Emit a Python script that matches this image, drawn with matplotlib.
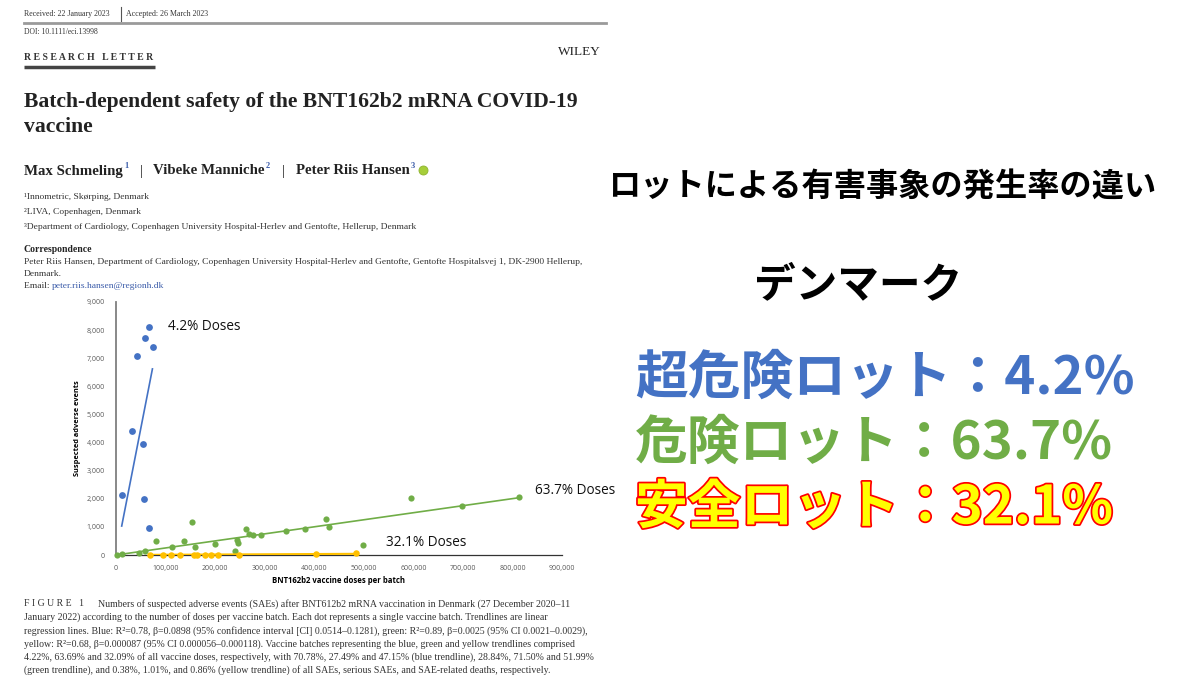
import matplotlib
matplotlib.use("Agg")
import matplotlib.pyplot as plt
import matplotlib.patheffects as pe
from matplotlib.ticker import FuncFormatter

# batches: doses per batch vs suspected adverse events
blue_x = [11500, 31600, 43000, 53800, 56500, 57800, 65900, 67200, 73900]
blue_y = [2150, 4400, 7090, 3960, 1975, 7710, 960, 8100, 7410]

green_x = [2700, 12000, 47000, 57800, 81000, 114000, 137000, 153000, 159000,
           200000, 240000, 245000, 246000, 262000, 268000, 276000, 292000,
           344000, 382000, 423000, 429000, 499000, 595000, 698000, 814000]
green_y = [0, 35, 60, 140, 490, 300, 490, 1180, 270, 400, 150, 535, 440, 925,
           750, 725, 710, 870, 915, 1265, 990, 357, 2035, 1760, 2060]

yellow_x = [69000, 95000, 111000, 130000, 157000, 164000, 180000, 192000,
            206000, 248000, 403000, 485000]
yellow_y = [0, 0, 0, 0, 0, 0, 0, 0, 0, 0, 40, 60]

# trendline end points
blue_trend_x = [11500, 73500]
blue_trend_y = [1030, 6620]
green_trend_x = [0, 814000]
green_trend_y = [0, 2040]
yellow_trend_x = [69000, 485000]
yellow_trend_y = [6, 42]

x_ticks = [0, 100000, 200000, 300000, 400000, 500000, 600000, 700000, 800000, 900000]
y_ticks = [0, 1000, 2000, 3000, 4000, 5000, 6000, 7000, 8000, 9000]

share_labels = ["4.2% Doses", "63.7% Doses", "32.1% Doses"]
jp_title = "ロットによる有害事象の発生率の違い"
jp_country = "デンマーク"
jp_rows = ["超危険ロット：4.2%", "危険ロット：63.7%", "安全ロット：32.1%"]

caption = [
    "Numbers of suspected adverse events (SAEs) after BNT612b2 mRNA vaccination in Denmark (27 December 2020–11",
    "January 2022) according to the number of doses per vaccine batch. Each dot represents a single vaccine batch. Trendlines are linear",
    "regression lines. Blue: R²=0.78, β=0.0898 (95% confidence interval [CI] 0.0514–0.1281), green: R²=0.89, β=0.0025 (95% CI 0.0021–0.0029),",
    "yellow: R²=0.68, β=0.000087 (95% CI 0.000056–0.000118). Vaccine batches representing the blue, green and yellow trendlines comprised",
    "4.22%, 63.69% and 32.09% of all vaccine doses, respectively, with 70.78%, 27.49% and 47.15% (blue trendline), 28.84%, 71.50% and 51.99%",
    "(green trendline), and 0.38%, 1.01%, and 0.86% (yellow trendline) of all SAEs, serious SAEs, and SAE-related deaths, respectively.",
]
affiliations = [
    "¹Innometric, Skørping, Denmark",
    "²LIVA, Copenhagen, Denmark",
    "³Department of Cardiology, Copenhagen University Hospital-Herlev and Gentofte, Hellerup, Denmark",
]

BLUE = "#4472C4"
GREEN = "#70AD47"
YELLOW = "#FFC000"
LINK = "#3A5BA9"

W, H = 1200, 675
fig = plt.figure(figsize=(12, 6.75), dpi=100)

# full-page axes in pixel units for the paper text
page = fig.add_axes([0, 0, 1, 1])
page.set_xlim(0, W)
page.set_ylim(H, 0)
page.axis("off")

serif = "Liberation Serif"
jp = ["Noto Sans CJK JP", "DejaVu Sans"]
txt = "#333333"

# header
page.text(24, 14, "Received: 22 January 2023", family=serif, fontsize=5.7, color=txt, va="center")
page.plot([121, 121], [7, 21], color="#555555", lw=0.8)
page.text(126, 14, "Accepted: 26 March 2023", family=serif, fontsize=5.7, color=txt, va="center")
page.plot([24, 606], [23, 23], color="#9a9a9a", lw=2)
page.text(24, 32, "DOI: 10.1111/eci.13998", family=serif, fontsize=5.5, color=txt, va="center")
page.text(24, 57, "R E S E A R C H   L E T T E R", family=serif, fontsize=7,
          weight="bold", color=txt, va="center")
page.plot([24, 155], [66.5, 66.5], color="#444444", lw=2.5, solid_capstyle="butt")
page.text(601, 52, "WILEY", family=serif, fontsize=9.5, color="#222222", va="center", ha="right")

# title
page.text(24, 102, "Batch-dependent safety of the BNT162b2 mRNA COVID-19", family=serif,
          fontsize=15.6, weight="bold", color="#222222", va="center")
page.text(24, 127, "vaccine", family=serif, fontsize=15.6, weight="bold", color="#222222", va="center")

# authors
names = [("Max Schmeling", "1", 24), ("Vibeke Manniche", "2", 153), ("Peter Riis Hansen", "3", 296)]
for name, sup, x0 in names:
    t = page.text(x0, 171, name, family=serif, fontsize=10.7, weight="bold", color="#222222", va="center")
    page.annotate(sup, xy=(1, 0.55), xycoords=t, xytext=(0.8, 0), textcoords="offset points",
                  family=serif, fontsize=6, weight="bold", color=LINK, va="bottom")
page.text(141, 171, "|", family=serif, fontsize=10, color="#222222", va="center", ha="center")
page.text(283, 171, "|", family=serif, fontsize=10, color="#222222", va="center", ha="center")
page.plot([423], [170], marker="o", ms=6.5, color="#A6CE39", mec="#8DB32E", mew=0.6)

for i, a in enumerate(affiliations):
    page.text(24, 197 + i * 15, a, family=serif, fontsize=6.8, color=txt, va="center")

page.text(24, 250, "Correspondence", family=serif, fontsize=7, weight="bold", color="#222222", va="center")
page.text(24, 262, "Peter Riis Hansen, Department of Cardiology, Copenhagen University Hospital-Herlev and "
          "Gentofte, Gentofte Hospitalsvej 1, DK-2900 Hellerup,", family=serif, fontsize=6.8, color=txt, va="center")
page.text(24, 274, "Denmark.", family=serif, fontsize=6.8, color=txt, va="center")
em = page.text(24, 286, "Email: ", family=serif, fontsize=6.8, color=txt, va="center")
page.annotate("peter.riis.hansen@regionh.dk", xy=(1, 0), xycoords=em, family=serif, fontsize=6.8,
              color=LINK, va="bottom")

# figure caption
page.text(24, 604, "F I G U R E   1", family=serif, fontsize=7, color=txt, va="center")
for i, line in enumerate(caption):
    page.text(98 if i == 0 else 24, 604 + i * 13.3, line, family=serif, fontsize=7.1, color=txt, va="center")

# scatter chart
ax = fig.add_axes([116 / W, 1 - 555 / H, (562 - 116) / W, (555 - 302) / H])
ax.patch.set_alpha(0)
ax.set_xlim(0, 900000)
ax.set_ylim(0, 9000)
ax.set_xticks(x_ticks)
ax.set_yticks(y_ticks)
fmt = FuncFormatter(lambda v, p: f"{int(v):,}")
ax.xaxis.set_major_formatter(fmt)
ax.yaxis.set_major_formatter(fmt)
ax.tick_params(length=0, labelsize=5, labelcolor="#595959")
ax.tick_params(axis="y", pad=8)
ax.tick_params(axis="x", pad=7)
for lab in ax.get_xticklabels() + ax.get_yticklabels():
    lab.set_family("Open Sans")
for side in ["top", "right"]:
    ax.spines[side].set_visible(False)
ax.spines["left"].set_color("#7f7f7f")
ax.spines["left"].set_linewidth(1.3)
ax.spines["bottom"].set_color("#333333")
ax.spines["bottom"].set_linewidth(0.9)

ax.scatter(green_x, green_y, s=20, color=GREEN, zorder=3, clip_on=False, linewidths=0)
ax.scatter(yellow_x, yellow_y, s=22, color=YELLOW, zorder=3, clip_on=False, linewidths=0)
ax.scatter(blue_x, blue_y, s=24, color=BLUE, zorder=3, clip_on=False, linewidths=0)
ax.plot(blue_trend_x, blue_trend_y, color=BLUE, lw=1.2, zorder=4)
ax.plot(green_trend_x, green_trend_y, color=GREEN, lw=1.2, zorder=4)
ax.plot(yellow_trend_x, yellow_trend_y, color=YELLOW, lw=1.5, zorder=4)

ax.set_ylabel("Suspected adverse events", family="Open Sans", fontsize=5.3, weight="bold", labelpad=4)
ax.set_xlabel("BNT162b2 vaccine doses per batch", family="Open Sans", fontsize=5.6, weight="bold", labelpad=3)

page.text(168, 327, share_labels[0], family="Open Sans", fontsize=9.8, color="#111111", va="center")
page.text(535, 491, share_labels[1], family="Open Sans", fontsize=9.8, color="#111111", va="center")
page.text(386, 543, share_labels[2], family="Open Sans", fontsize=9.8, color="#111111", va="center")

# Japanese commentary
page.text(882, 186, jp_title, family=jp, fontsize=23.2, weight="bold", color="black", va="center", ha="center")
page.text(858, 285, jp_country, family=jp, fontsize=30, weight="bold", color="black", va="center", ha="center")
page.text(635, 378, jp_rows[0], family=jp, fontsize=38, weight="bold", color=BLUE, va="center")
page.text(635, 443, jp_rows[1], family=jp, fontsize=38, weight="bold", color=GREEN, va="center")
page.text(635, 508, jp_rows[2], family=jp, fontsize=38, weight="bold", color="#FFFF00", va="center",
          path_effects=[pe.withStroke(linewidth=2.5, foreground="#FF0000")])

fig.savefig("out.png", dpi=100)
